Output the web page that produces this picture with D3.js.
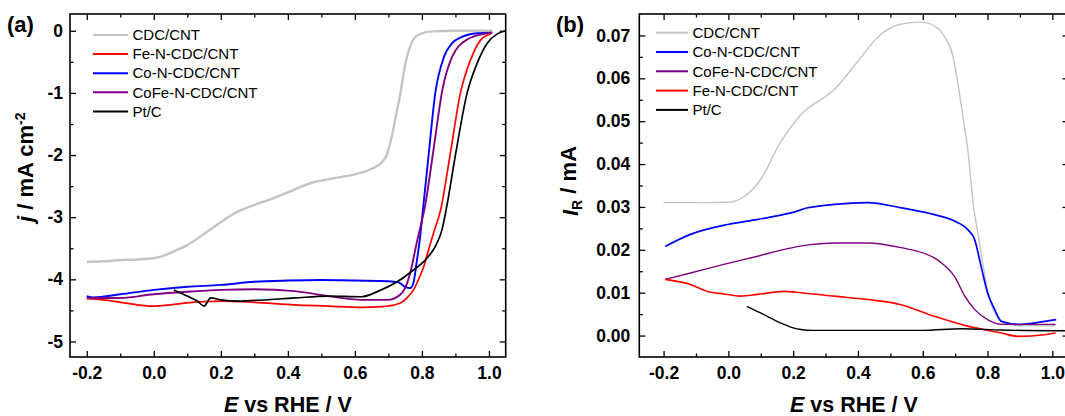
<html>
<head>
<script src="https://d3js.org/d3.v7.min.js"></script>
<style>
body { margin: 0; background: #fff; font-family: "Liberation Sans", Arial, sans-serif; }
.tick text { font-family: "Liberation Sans", Arial, sans-serif; font-weight: bold; font-size: 17.5px; fill: #000; }
.tick line { stroke: #000; stroke-width: 1.3; }
.frame { fill: none; stroke: #000; stroke-width: 1.6; }
.curve { fill: none; stroke-linejoin: round; }
.legend text { font-size: 15px; fill: #000; }
.title { font-weight: bold; font-size: 21.5px; fill: #000; }
</style>
</head>
<body>
<div id="chart"></div>
<script>
// ---- panel (a): LSV, j (mA cm-2) vs E (V vs RHE) ----
var lsvCDC = [[-0.2,-3.72],[-0.15,-3.71],[-0.1,-3.69],[-0.05,-3.68],[0,-3.66],[0.03,-3.62],[0.06,-3.55],[0.1,-3.45],[0.16,-3.23],[0.2,-3.08],[0.24,-2.94],[0.3,-2.8],[0.34,-2.73],[0.4,-2.6],[0.47,-2.45],[0.53,-2.38],[0.6,-2.31],[0.65,-2.22],[0.68,-2.12],[0.695,-2.0],[0.71,-1.7],[0.725,-1.3],[0.736,-1.0],[0.748,-0.6],[0.76,-0.33],[0.776,-0.13],[0.8,-0.04],[0.83,-0.01],[0.9,0],[1.01,0]];
var lsvFe = [[-0.2,-4.31],[-0.15,-4.33],[-0.1,-4.37],[-0.05,-4.41],[0,-4.43],[0.05,-4.41],[0.1,-4.38],[0.15,-4.36],[0.2,-4.35],[0.3,-4.37],[0.42,-4.41],[0.52,-4.43],[0.62,-4.45],[0.68,-4.44],[0.72,-4.41],[0.745,-4.35],[0.76,-4.27],[0.775,-4.17],[0.79,-4.0],[0.805,-3.8],[0.82,-3.52],[0.835,-3.25],[0.856,-2.88],[0.884,-2.0],[0.915,-1.0],[0.945,-0.47],[0.975,-0.15],[1.005,-0.05]];
var lsvCo = [[-0.2,-4.27],[-0.18,-4.29],[-0.1,-4.24],[0,-4.17],[0.1,-4.12],[0.2,-4.09],[0.3,-4.04],[0.4,-4.02],[0.5,-4.01],[0.6,-4.02],[0.7,-4.03],[0.73,-4.05],[0.75,-4.12],[0.765,-4.14],[0.775,-4.05],[0.785,-3.7],[0.795,-3.3],[0.803,-2.88],[0.82,-2.0],[0.84,-1.0],[0.866,-0.42],[0.89,-0.2],[0.915,-0.11],[0.965,-0.04],[1.01,-0.03]];
var lsvCoFe = [[-0.2,-4.3],[-0.1,-4.3],[0,-4.24],[0.1,-4.2],[0.2,-4.17],[0.3,-4.16],[0.42,-4.19],[0.52,-4.27],[0.62,-4.33],[0.7,-4.33],[0.73,-4.27],[0.75,-4.14],[0.765,-3.9],[0.785,-3.4],[0.81,-2.8],[0.835,-1.9],[0.861,-0.95],[0.89,-0.42],[0.935,-0.14],[0.985,-0.05],[1.01,-0.03]];
var lsvPt = [[0.06,-4.17],[0.1,-4.27],[0.13,-4.35],[0.15,-4.43],[0.17,-4.3],[0.2,-4.33],[0.25,-4.35],[0.3,-4.34],[0.42,-4.3],[0.52,-4.27],[0.62,-4.28],[0.67,-4.19],[0.72,-4.06],[0.77,-3.87],[0.82,-3.63],[0.84,-3.47],[0.86,-3.2],[0.875,-2.8],[0.9,-2.0],[0.935,-1.0],[0.965,-0.52],[0.995,-0.2],[1.025,-0.05],[1.05,0]];

// ---- panel (b): ring current I_R (mA) vs E ----
var ringCDC = [[-0.2,0.031],[-0.1,0.031],[0,0.0311],[0.05,0.0325],[0.1,0.0364],[0.16,0.045],[0.22,0.0512],[0.33,0.0576],[0.4,0.064],[0.46,0.0695],[0.53,0.0726],[0.595,0.0731],[0.636,0.0722],[0.667,0.0698],[0.693,0.0652],[0.708,0.059],[0.724,0.0512],[0.739,0.0434],[0.758,0.0294],[0.77,0.024],[0.796,0.0123],[0.822,0.0053],[0.863,0.0026],[0.9,0.0023],[1.01,0.0023]];
var ringCo = [[-0.195,0.0208],[-0.117,0.0236],[-0.003,0.0259],[0.09,0.0271],[0.193,0.0286],[0.245,0.0298],[0.327,0.0306],[0.43,0.031],[0.533,0.0298],[0.636,0.0282],[0.698,0.0267],[0.739,0.0247],[0.76,0.0224],[0.78,0.0162],[0.8,0.01],[0.822,0.0061],[0.843,0.0033],[0.894,0.0026],[0.976,0.0033],[1.012,0.0037]];
var ringCoFe = [[-0.195,0.0131],[-0.117,0.0146],[-0.014,0.0166],[0.09,0.0185],[0.172,0.0201],[0.254,0.0212],[0.327,0.0216],[0.43,0.0216],[0.533,0.0205],[0.636,0.0181],[0.657,0.017],[0.698,0.0138],[0.73,0.0092],[0.76,0.0061],[0.8,0.0037],[0.843,0.0026],[1.01,0.0026]];
var ringFe = [[-0.195,0.0131],[-0.117,0.0119],[-0.065,0.0103],[-0.014,0.0097],[0.038,0.0092],[0.09,0.0096],[0.172,0.0103],[0.224,0.01],[0.327,0.0092],[0.43,0.0084],[0.533,0.0072],[0.636,0.0045],[0.739,0.0022],[0.843,0.0006],[0.894,-0.0002],[0.976,0.0002],[1.01,0.0006]];
var ringPt = [[0.057,0.0068],[0.09,0.0056],[0.12,0.0045],[0.15,0.0033],[0.172,0.0026],[0.2,0.0018],[0.224,0.0014],[0.26,0.0012],[0.4,0.0012],[0.6,0.0012],[0.72,0.0016],[0.84,0.0013],[1.05,0.0011]];

// tick values
var xTicks = [-0.2, 0.0, 0.2, 0.4, 0.6, 0.8, 1.0];
var xMinor = [-0.1, 0.1, 0.3, 0.5, 0.7, 0.9];
var jTicks = [0, -1, -2, -3, -4, -5];
var jMinor = [-0.5, -1.5, -2.5, -3.5, -4.5];
var iTicks = [0, 0.01, 0.02, 0.03, 0.04, 0.05, 0.06, 0.07];
var iMinor = [0.005, 0.015, 0.025, 0.035, 0.045, 0.055, 0.065];

var grey = "#c4c4c4", red = "#ff0000", blue = "#0000ff", purple = "#800080", black = "#000000";

var svg = d3.select("#chart").append("svg")
  .attr("width", 1065).attr("height", 416);

function panel(o) {
  var x = d3.scaleLinear().domain(o.xDomain).range([o.left, o.right]);
  var y = d3.scaleLinear().domain(o.yDomain).range([o.bottom, o.top]);
  var g = svg.append("g");

  var line = d3.line().curve(d3.curveMonotoneX).x(d => x(d[0])).y(d => y(d[1]));
  o.series.forEach(function(s) {
    g.append("path").attr("class", "curve")
      .attr("d", line(s.values))
      .style("stroke", s.color)
      .style("stroke-width", s.width);
  });

  // frame
  g.append("rect").attr("class", "frame")
    .attr("x", o.left).attr("y", o.top)
    .attr("width", o.right - o.left).attr("height", o.bottom - o.top);

  function ax(axis, tr, vals, size, fmt, pad) {
    var a = g.append("g").attr("transform", tr)
      .call(axis.tickValues(vals).tickSizeInner(-size).tickSizeOuter(0).tickPadding(pad || 0).tickFormat(fmt || ""));
    a.select(".domain").remove();
    return a;
  }
  ax(d3.axisBottom(x), `translate(0,${o.bottom})`, xTicks, 6, d => d.toFixed(1), 10);
  ax(d3.axisBottom(x), `translate(0,${o.bottom})`, xMinor, 3.5);
  ax(d3.axisTop(x), `translate(0,${o.top})`, xTicks, 6);
  ax(d3.axisTop(x), `translate(0,${o.top})`, xMinor, 3.5);
  ax(d3.axisLeft(y), `translate(${o.left},0)`, o.yTicks, 6, o.yFmt, o.yPad);
  ax(d3.axisLeft(y), `translate(${o.left},0)`, o.yMinor, 3.5);
  ax(d3.axisRight(y), `translate(${o.right},0)`, o.yTicks, 6);
  ax(d3.axisRight(y), `translate(${o.right},0)`, o.yMinor, 3.5);

  // legend
  var lg = g.append("g").attr("class", "legend");
  o.series.forEach(function(s, i) {
    var ly = o.legY + i * o.legStep;
    lg.append("line").attr("x1", o.legX).attr("x2", o.legX + o.legLen)
      .attr("y1", ly).attr("y2", ly)
      .style("stroke", s.color).style("stroke-width", 2);
    lg.append("text").attr("x", o.legX + o.legLen + 4.5).attr("y", ly)
      .attr("dy", "0.35em").text(s.name);
  });

  // x title
  var xt = g.append("text").attr("class", "title")
    .attr("x", (o.left + o.right) / 2).attr("y", 412)
    .attr("text-anchor", "middle");
  xt.append("tspan").style("font-style", "italic").text("E");
  xt.append("tspan").text(" vs RHE / V");
  return g;
}

var ga = panel({
  left: 70, right: 505.7, top: 14, bottom: 357,
  xDomain: [-0.25, 1.05], yDomain: [-5.25, 0.27],
  yTicks: jTicks, yMinor: jMinor, yFmt: d => String(d), yPad: 7,
  legX: 93, legLen: 35, legY: 35, legStep: 19.1,
  series: [
    {name: "CDC/CNT", values: lsvCDC, color: grey, width: 2.4},
    {name: "Fe-N-CDC/CNT", values: lsvFe, color: red, width: 1.7},
    {name: "Co-N-CDC/CNT", values: lsvCo, color: blue, width: 1.9},
    {name: "CoFe-N-CDC/CNT", values: lsvCoFe, color: purple, width: 1.9},
    {name: "Pt/C", values: lsvPt, color: black, width: 1.7}
  ]
});

var gb = panel({
  left: 639.3, right: 1068.5, top: 14, bottom: 357,
  xDomain: [-0.275, 1.05], yDomain: [-0.005, 0.075],
  yTicks: iTicks, yMinor: iMinor, yFmt: d => d.toFixed(2), yPad: 9,
  legX: 656, legLen: 32, legY: 32.7, legStep: 19.3,
  series: [
    {name: "CDC/CNT", values: ringCDC, color: grey, width: 1.4},
    {name: "Co-N-CDC/CNT", values: ringCo, color: blue, width: 1.7},
    {name: "CoFe-N-CDC/CNT", values: ringCoFe, color: purple, width: 1.4},
    {name: "Fe-N-CDC/CNT", values: ringFe, color: red, width: 1.6},
    {name: "Pt/C", values: ringPt, color: black, width: 1.4}
  ]
});

// panel letters
svg.append("text").attr("class", "title").attr("x", 7).attr("y", 32).style("font-size", "22px").text("(a)");
svg.append("text").attr("class", "title").attr("x", 556).attr("y", 32).style("font-size", "22px").text("(b)");

// y titles
var ya = svg.append("text").attr("class", "title")
  .attr("transform", "translate(33,222) rotate(-90)").style("font-size", "22px");
ya.append("tspan").style("font-style", "italic").text("j");
ya.append("tspan").text(" / mA cm");
ya.append("tspan").attr("dy", "-0.55em").style("font-size", "14px").text("-2");

var yb = svg.append("text").attr("class", "title")
  .attr("transform", "translate(578,216) rotate(-90)").style("font-size", "22px");
yb.append("tspan").style("font-style", "italic").text("I");
yb.append("tspan").attr("dy", "0.3em").style("font-size", "14px").text("R");
yb.append("tspan").attr("dy", "-0.3em").text(" / mA");
</script>
</body>
</html>
